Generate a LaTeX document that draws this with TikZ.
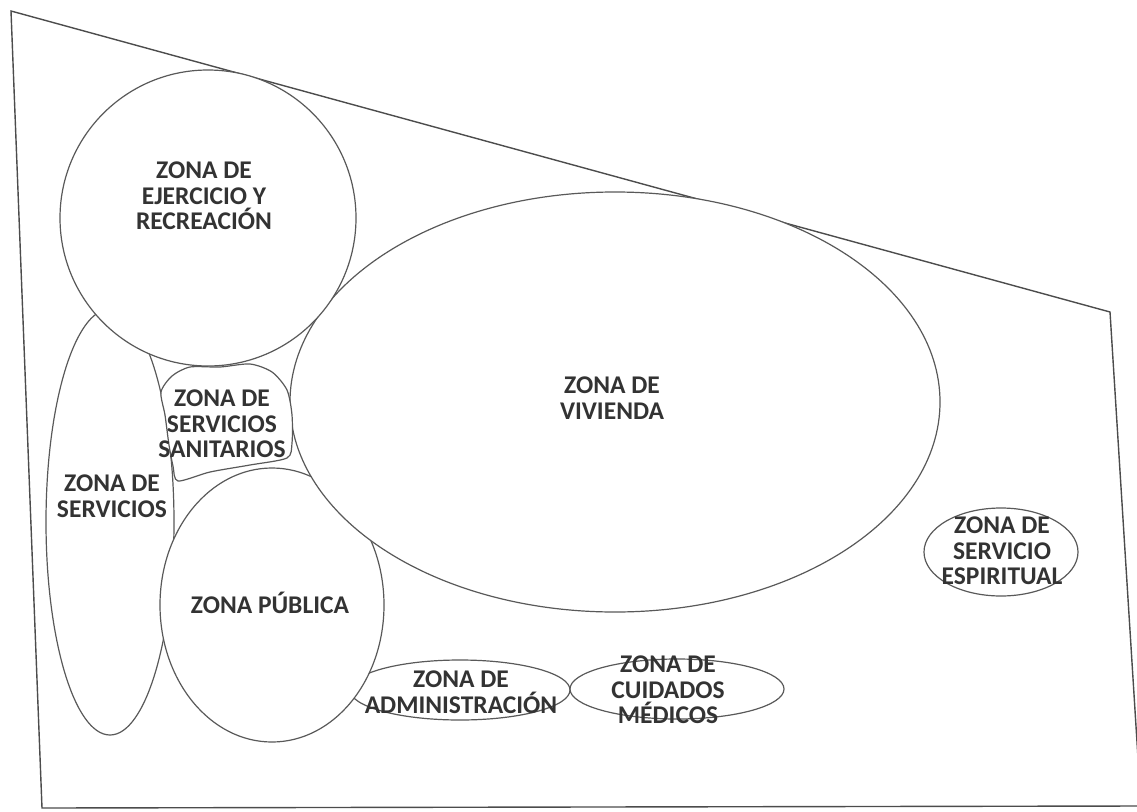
\documentclass[tikz,border=0pt]{standalone}
\usepackage{fontspec}
\setmainfont{Carlito}
\begin{document}
\begin{tikzpicture}[x=1pt,y=-1pt,
  zone/.style={draw=black!65, line width=1.2pt, fill=white},
  border/.style={draw=black!70, line width=1.4pt},
  lbl/.style={align=center, font=\bfseries\fontsize{25.5}{25.5}\selectfont, text=black!80, inner sep=0pt}]
\useasboundingbox (0,0) rectangle (1137,811);
\clip (0,0) rectangle (1137,811);
% site outline
\draw[border] (11,11) -- (1110,312) -- (1141,806) -- (42,808) -- cycle;
% zones (painted in layers, later ones cover earlier ones)
\path[zone] (110,522) ellipse [x radius=64pt, y radius=213pt];   % servicios
\path[zone] (460,690) ellipse [x radius=110pt, y radius=30pt];   % administracion
\path[zone] (272,605) ellipse [x radius=112pt, y radius=137pt];  % publica
\path[zone] (615,402) ellipse [x radius=325pt, y radius=210pt];  % vivienda
\path[zone] (208,218) circle [radius=148pt];                      % ejercicio
\path[zone] plot[smooth cycle, tension=0.45] coordinates {
  (161,392) (172,376) (190,367) (220,367) (250,364) (272,372) (287,390)
  (292,415) (292,443) (287,458) (250,465) (210,472) (178,481) (173,466)
  (169,445) (165,415)};                                           % sanitarios
\path[zone] (677,689) ellipse [x radius=107pt, y radius=30pt];   % cuidados
\path[zone] (1001,552) ellipse [x radius=77pt, y radius=44pt];   % espiritual
% labels
\node[lbl] (ejer) at (204,196) {ZONA DE\\EJERCICIO Y\\RECREACIÓN};
\node[lbl] (sani) at (222,424) {ZONA DE\\SERVICIOS\\SANITARIOS};
\node[lbl] (vivi) at (612,398) {ZONA DE\\VIVIENDA};
\node[lbl] (serv) at (112,496) {ZONA DE\\SERVICIOS};
\node[lbl] (publ) at (270,603) {ZONA PÚBLICA};
\node[lbl] (espi) at (1002,551) {ZONA DE\\SERVICIO\\ESPIRITUAL};
\node[lbl] (admi) at (461,692) {ZONA DE\\ADMINISTRACIÓN};
\node[lbl] (cuid) at (668,690) {ZONA DE\\CUIDADOS\\MÉDICOS};
\end{tikzpicture}
\end{document}
